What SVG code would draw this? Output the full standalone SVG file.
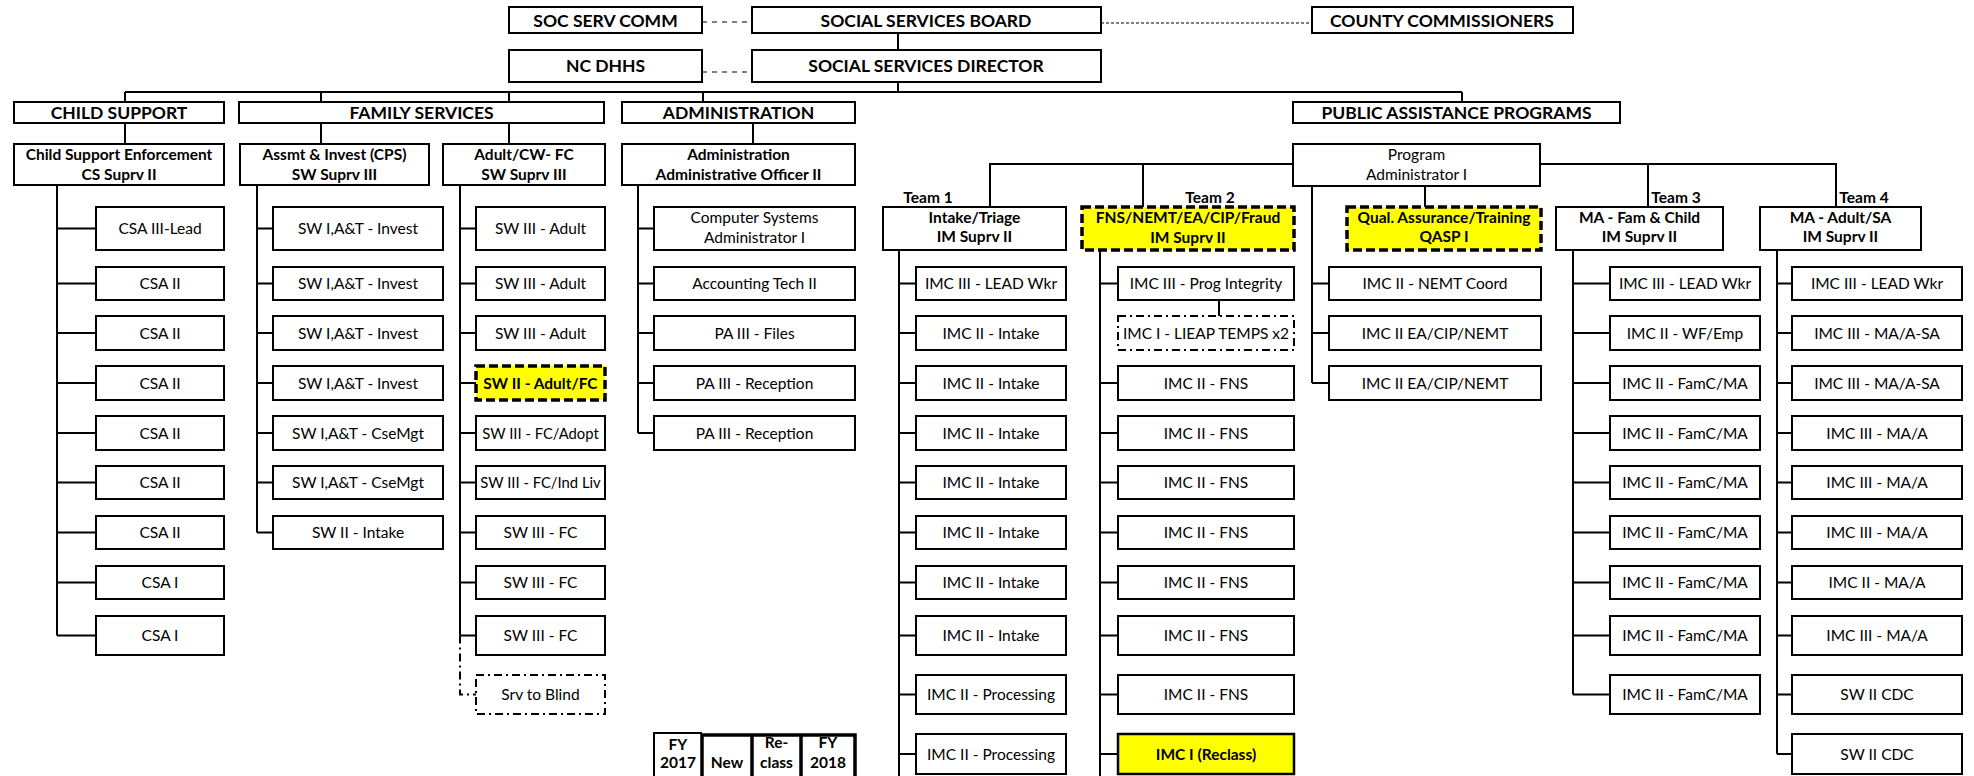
<svg xmlns="http://www.w3.org/2000/svg" width="1974" height="776" viewBox="0 0 1974 776">
<style>
  .bg{fill:#fff}
  .box{fill:#fff;stroke:#000;stroke-width:2}
  .hl{fill:#ff0;stroke:#000;stroke-width:3.5;stroke-dasharray:9 4}
  .hs{fill:#ff0;stroke:#000;stroke-width:2.5}
  .dd{fill:#fff;stroke:#000;stroke-width:2;stroke-dasharray:8 4 2 4}
  .ln{fill:none;stroke:#000;stroke-width:2}
  .lnd{fill:none;stroke:#000;stroke-width:2;stroke-dasharray:8 4 2 4}
  .dash{fill:none;stroke:#000;stroke-width:1.2;stroke-dasharray:5 5}
  .fine{fill:none;stroke:#000;stroke-width:1;stroke-dasharray:3 2}
  text{font-family:Lato,"Liberation Sans",sans-serif;text-anchor:middle;fill:#000}
  .h{font-size:17.5px;font-weight:700}
  .b{font-size:15.5px;font-weight:700}
  .t{font-size:15.5px}
  .tn{font-size:14.8px}
</style>
<rect class="bg" x="0" y="0" width="1974" height="776"/>

<!-- connectors -->
<g id="connectors">
  <path class="dash" d="M702 22H752M702 72H752"/>
  <path class="fine" d="M1101 23H1312"/>
  <path class="ln" d="M898 33V50M898 82V92M125 92H1462M125 92V102M321 92V102M509 92V102M703 92V102M1462 92V102"/>
  <path class="ln" d="M125 123V144M321 123V144M509 123V144M753 123V144"/>
  <!-- child support -->
  <path class="ln" d="M57 185V635.5M57 228.5H96M57 283.5H96M57 333H96M57 383H96M57 433H96M57 482.5H96M57 532.5H96M57 582.5H96M57 635.5H96"/>
  <!-- assessment and investigation -->
  <path class="ln" d="M257 185V532.5M257 228.5H273M257 283.5H273M257 333H273M257 383H273M257 433H273M257 482.5H273M257 532.5H273"/>
  <!-- adult / foster care -->
  <path class="ln" d="M460 185V635.5M460 228.5H476M460 283.5H476M460 333H476M460 383H476M460 433H476M460 482.5H476M460 532.5H476M460 582.5H476M460 635.5H476"/>
  <path class="lnd" d="M460 635.5V694.5H476"/>
  <!-- administration -->
  <path class="ln" d="M638 185V433M638 228.5H654M638 283.5H654M638 333H654M638 383H654M638 433H654"/>
  <!-- program administrator to teams -->
  <path class="ln" d="M990 207V164H1293M1540 164H1836V207M1143 164V207M1648 164V207M1425 186V207"/>
  <path class="ln" d="M1312 186V383M1312 283.5H1329M1312 333H1329M1312 383H1329"/>
  <!-- team 1 -->
  <path class="ln" d="M899 250V776M899 283.5H916M899 333H916M899 383H916M899 433H916M899 482.5H916M899 532.5H916M899 582.5H916M899 635.5H916M899 694.5H916M899 754H916"/>
  <!-- team 2 -->
  <path class="ln" d="M1100 250V776M1100 283.5H1118M1100 383H1118M1100 433H1118M1100 482.5H1118M1100 532.5H1118M1100 582.5H1118M1100 635.5H1118M1100 694.5H1118M1100 754H1118M1219 300V316"/>
  <!-- team 3 -->
  <path class="ln" d="M1573 250V694.5M1573 283.5H1610M1573 333H1610M1573 383H1610M1573 433H1610M1573 482.5H1610M1573 532.5H1610M1573 582.5H1610M1573 635.5H1610M1573 694.5H1610"/>
  <!-- team 4 -->
  <path class="ln" d="M1777 250V754M1777 283.5H1792M1777 333H1792M1777 383H1792M1777 433H1792M1777 482.5H1792M1777 532.5H1792M1777 582.5H1792M1777 635.5H1792M1777 694.5H1792M1777 754H1792"/>
</g>

<!-- top level -->
<g id="soc-serv-comm"><rect class="box" x="509" y="7" width="193" height="26"/><text class="h" x="605.5" y="26.5">SOC SERV COMM</text></g>
<g id="ss-board"><rect class="box" x="752" y="7" width="349" height="26"/><text class="h" x="926" y="26.5">SOCIAL SERVICES BOARD</text></g>
<g id="county-commissioners"><rect class="box" x="1312" y="7" width="261" height="26"/><text class="h" x="1442" y="26.5">COUNTY COMMISSIONERS</text></g>
<g id="nc-dhhs"><rect class="box" x="509" y="50" width="193" height="32"/><text class="h" x="605.5" y="72">NC DHHS</text></g>
<g id="ss-director"><rect class="box" x="752" y="50" width="349" height="32"/><text class="h" x="926" y="72">SOCIAL SERVICES DIRECTOR</text></g>

<!-- divisions -->
<g id="child-support"><rect class="box" x="14" y="102" width="210" height="21"/><text class="h" x="119" y="119">CHILD SUPPORT</text></g>
<g id="family-services"><rect class="box" x="239" y="102" width="365" height="21"/><text class="h" x="421.5" y="119">FAMILY SERVICES</text></g>
<g id="administration"><rect class="box" x="622" y="102" width="233" height="21"/><text class="h" x="738.5" y="119">ADMINISTRATION</text></g>
<g id="public-assistance"><rect class="box" x="1293" y="102" width="327" height="21"/><text class="h" x="1456.5" y="119">PUBLIC ASSISTANCE PROGRAMS</text></g>

<!-- section supervisors -->
<g id="cs-enforcement"><rect class="box" x="14" y="144" width="210" height="41"/><text class="b" x="119" y="160">Child Support Enforcement</text><text class="b" x="119" y="180">CS Suprv II</text></g>
<g id="assmt-invest"><rect class="box" x="240" y="144" width="189" height="41"/><text class="b" x="334.5" y="160">Assmt &amp; Invest (CPS)</text><text class="b" x="334.5" y="180">SW Suprv III</text></g>
<g id="adult-cw-fc"><rect class="box" x="443" y="144" width="162" height="41"/><text class="b" x="524" y="160">Adult/CW- FC</text><text class="b" x="524" y="180">SW Suprv III</text></g>
<g id="admin-officer"><rect class="box" x="622" y="144" width="233" height="41"/><text class="b" x="738.5" y="160">Administration</text><text class="b" x="738.5" y="180">Administrative Officer II</text></g>
<g id="program-admin"><rect class="box" x="1293" y="144" width="247" height="42"/><text class="t" x="1416.5" y="160">Program</text><text class="t" x="1416.5" y="180">Administrator I</text></g>

<!-- team labels -->
<g id="team-labels">
  <text class="b" x="928" y="203">Team 1</text>
  <text class="b" x="1210" y="203">Team 2</text>
  <text class="b" x="1676" y="203">Team 3</text>
  <text class="b" x="1864" y="203">Team 4</text>
</g>

<!-- team supervisors -->
<g id="intake-triage"><rect class="box" x="883" y="207" width="183" height="43"/><text class="b" x="974.5" y="223">Intake/Triage</text><text class="b" x="974.5" y="242">IM Suprv II</text></g>
<g id="fns-nemt"><rect class="hl" x="1082" y="207" width="212" height="43"/><text class="b" x="1188" y="223">FNS/NEMT/EA/CIP/Fraud</text><text class="b" x="1188" y="243">IM Suprv II</text></g>
<g id="qa-training"><rect class="hl" x="1347" y="207" width="194" height="43"/><text class="b" x="1444" y="223">Qual. Assurance/Training</text><text class="b" x="1444" y="242">QASP I</text></g>
<g id="ma-fam-child"><rect class="box" x="1556" y="207" width="167" height="43"/><text class="b" x="1639.5" y="223">MA - Fam &amp; Child</text><text class="b" x="1639.5" y="242">IM Suprv II</text></g>
<g id="ma-adult-sa"><rect class="box" x="1760" y="207" width="161" height="43"/><text class="b" x="1840.5" y="223">MA - Adult/SA</text><text class="b" x="1840.5" y="242">IM Suprv II</text></g>

<!-- child support staff -->
<g id="cs-1"><rect class="box" x="96" y="207" width="128" height="43"/><text class="t" x="160" y="234">CSA III-Lead</text></g>
<g id="cs-2"><rect class="box" x="96" y="267" width="128" height="33"/><text class="t" x="160" y="289">CSA II</text></g>
<g id="cs-3"><rect class="box" x="96" y="316" width="128" height="34"/><text class="t" x="160" y="338.5">CSA II</text></g>
<g id="cs-4"><rect class="box" x="96" y="366" width="128" height="34"/><text class="t" x="160" y="388.5">CSA II</text></g>
<g id="cs-5"><rect class="box" x="96" y="416" width="128" height="34"/><text class="t" x="160" y="438.5">CSA II</text></g>
<g id="cs-6"><rect class="box" x="96" y="466" width="128" height="33"/><text class="t" x="160" y="488">CSA II</text></g>
<g id="cs-7"><rect class="box" x="96" y="516" width="128" height="33"/><text class="t" x="160" y="538">CSA II</text></g>
<g id="cs-8"><rect class="box" x="96" y="566" width="128" height="33"/><text class="t" x="160" y="588">CSA I</text></g>
<g id="cs-9"><rect class="box" x="96" y="616" width="128" height="39"/><text class="t" x="160" y="641">CSA I</text></g>

<!-- assessment and investigation staff -->
<g id="ai-1"><rect class="box" x="273" y="207" width="170" height="43"/><text class="t" x="358" y="234">SW I,A&amp;T - Invest</text></g>
<g id="ai-2"><rect class="box" x="273" y="267" width="170" height="33"/><text class="t" x="358" y="289">SW I,A&amp;T - Invest</text></g>
<g id="ai-3"><rect class="box" x="273" y="316" width="170" height="34"/><text class="t" x="358" y="338.5">SW I,A&amp;T - Invest</text></g>
<g id="ai-4"><rect class="box" x="273" y="366" width="170" height="34"/><text class="t" x="358" y="388.5">SW I,A&amp;T - Invest</text></g>
<g id="ai-5"><rect class="box" x="273" y="416" width="170" height="34"/><text class="t" x="358" y="438.5">SW I,A&amp;T - CseMgt</text></g>
<g id="ai-6"><rect class="box" x="273" y="466" width="170" height="33"/><text class="t" x="358" y="488">SW I,A&amp;T - CseMgt</text></g>
<g id="ai-7"><rect class="box" x="273" y="516" width="170" height="33"/><text class="t" x="358" y="538">SW II - Intake</text></g>

<!-- adult / foster care staff -->
<g id="af-1"><rect class="box" x="476" y="207" width="129" height="43"/><text class="t" x="540.5" y="234">SW III - Adult</text></g>
<g id="af-2"><rect class="box" x="476" y="267" width="129" height="33"/><text class="t" x="540.5" y="289">SW III - Adult</text></g>
<g id="af-3"><rect class="box" x="476" y="316" width="129" height="34"/><text class="t" x="540.5" y="338.5">SW III - Adult</text></g>
<g id="af-4"><rect class="hl" x="476" y="366" width="129" height="34"/><text class="b" x="540.5" y="388.5">SW II - Adult/FC</text></g>
<g id="af-5"><rect class="box" x="476" y="416" width="129" height="34"/><text class="tn" x="540.5" y="438.5">SW III - FC/Adopt</text></g>
<g id="af-6"><rect class="box" x="476" y="466" width="129" height="33"/><text class="tn" x="540.5" y="488">SW III - FC/Ind Liv</text></g>
<g id="af-7"><rect class="box" x="476" y="516" width="129" height="33"/><text class="t" x="540.5" y="538">SW III - FC</text></g>
<g id="af-8"><rect class="box" x="476" y="566" width="129" height="33"/><text class="t" x="540.5" y="588">SW III - FC</text></g>
<g id="af-9"><rect class="box" x="476" y="616" width="129" height="39"/><text class="t" x="540.5" y="641">SW III - FC</text></g>
<g id="af-10"><rect class="dd" x="476" y="675" width="129" height="39"/><text class="t" x="540.5" y="700">Srv to Blind</text></g>

<!-- administration staff -->
<g id="ad-1"><rect class="box" x="654" y="207" width="201" height="43"/><text class="t" x="754.5" y="223">Computer Systems</text><text class="t" x="754.5" y="243">Administrator I</text></g>
<g id="ad-2"><rect class="box" x="654" y="267" width="201" height="33"/><text class="t" x="754.5" y="289">Accounting Tech II</text></g>
<g id="ad-3"><rect class="box" x="654" y="316" width="201" height="34"/><text class="t" x="754.5" y="338.5">PA III - Files</text></g>
<g id="ad-4"><rect class="box" x="654" y="366" width="201" height="34"/><text class="t" x="754.5" y="388.5">PA III - Reception</text></g>
<g id="ad-5"><rect class="box" x="654" y="416" width="201" height="34"/><text class="t" x="754.5" y="438.5">PA III - Reception</text></g>

<!-- team 1 staff -->
<g id="t1-1"><rect class="box" x="916" y="267" width="150" height="33"/><text class="t" x="991" y="289">IMC III - LEAD Wkr</text></g>
<g id="t1-2"><rect class="box" x="916" y="316" width="150" height="34"/><text class="t" x="991" y="338.5">IMC II - Intake</text></g>
<g id="t1-3"><rect class="box" x="916" y="366" width="150" height="34"/><text class="t" x="991" y="388.5">IMC II - Intake</text></g>
<g id="t1-4"><rect class="box" x="916" y="416" width="150" height="34"/><text class="t" x="991" y="438.5">IMC II - Intake</text></g>
<g id="t1-5"><rect class="box" x="916" y="466" width="150" height="33"/><text class="t" x="991" y="488">IMC II - Intake</text></g>
<g id="t1-6"><rect class="box" x="916" y="516" width="150" height="33"/><text class="t" x="991" y="538">IMC II - Intake</text></g>
<g id="t1-7"><rect class="box" x="916" y="566" width="150" height="33"/><text class="t" x="991" y="588">IMC II - Intake</text></g>
<g id="t1-8"><rect class="box" x="916" y="616" width="150" height="39"/><text class="t" x="991" y="641">IMC II - Intake</text></g>
<g id="t1-9"><rect class="box" x="916" y="675" width="150" height="39"/><text class="t" x="991" y="700">IMC II - Processing</text></g>
<g id="t1-10"><rect class="box" x="916" y="734" width="150" height="40"/><text class="t" x="991" y="759.5">IMC II - Processing</text></g>

<!-- team 2 staff -->
<g id="t2-1"><rect class="box" x="1118" y="267" width="176" height="33"/><text class="t" x="1206" y="289">IMC III - Prog Integrity</text></g>
<g id="t2-2"><rect class="dd" x="1118" y="316" width="176" height="34"/><text class="t" x="1206" y="338.5">IMC I - LIEAP TEMPS x2</text></g>
<g id="t2-3"><rect class="box" x="1118" y="366" width="176" height="34"/><text class="t" x="1206" y="388.5">IMC II - FNS</text></g>
<g id="t2-4"><rect class="box" x="1118" y="416" width="176" height="34"/><text class="t" x="1206" y="438.5">IMC II - FNS</text></g>
<g id="t2-5"><rect class="box" x="1118" y="466" width="176" height="33"/><text class="t" x="1206" y="488">IMC II - FNS</text></g>
<g id="t2-6"><rect class="box" x="1118" y="516" width="176" height="33"/><text class="t" x="1206" y="538">IMC II - FNS</text></g>
<g id="t2-7"><rect class="box" x="1118" y="566" width="176" height="33"/><text class="t" x="1206" y="588">IMC II - FNS</text></g>
<g id="t2-8"><rect class="box" x="1118" y="616" width="176" height="39"/><text class="t" x="1206" y="641">IMC II - FNS</text></g>
<g id="t2-9"><rect class="box" x="1118" y="675" width="176" height="39"/><text class="t" x="1206" y="700">IMC II - FNS</text></g>
<g id="t2-10"><rect class="hs" x="1118" y="734" width="176" height="40"/><text class="b" x="1206" y="759.5">IMC I (Reclass)</text></g>

<!-- NEMT / EA staff -->
<g id="pa-1"><rect class="box" x="1329" y="267" width="212" height="33"/><text class="t" x="1435" y="289">IMC II - NEMT Coord</text></g>
<g id="pa-2"><rect class="box" x="1329" y="316" width="212" height="34"/><text class="t" x="1435" y="338.5">IMC II EA/CIP/NEMT</text></g>
<g id="pa-3"><rect class="box" x="1329" y="366" width="212" height="34"/><text class="t" x="1435" y="388.5">IMC II EA/CIP/NEMT</text></g>

<!-- team 3 staff -->
<g id="t3-1"><rect class="box" x="1610" y="267" width="150" height="33"/><text class="t" x="1685" y="289">IMC III - LEAD Wkr</text></g>
<g id="t3-2"><rect class="box" x="1610" y="316" width="150" height="34"/><text class="t" x="1685" y="338.5">IMC II - WF/Emp</text></g>
<g id="t3-3"><rect class="box" x="1610" y="366" width="150" height="34"/><text class="t" x="1685" y="388.5">IMC II - FamC/MA</text></g>
<g id="t3-4"><rect class="box" x="1610" y="416" width="150" height="34"/><text class="t" x="1685" y="438.5">IMC II - FamC/MA</text></g>
<g id="t3-5"><rect class="box" x="1610" y="466" width="150" height="33"/><text class="t" x="1685" y="488">IMC II - FamC/MA</text></g>
<g id="t3-6"><rect class="box" x="1610" y="516" width="150" height="33"/><text class="t" x="1685" y="538">IMC II - FamC/MA</text></g>
<g id="t3-7"><rect class="box" x="1610" y="566" width="150" height="33"/><text class="t" x="1685" y="588">IMC II - FamC/MA</text></g>
<g id="t3-8"><rect class="box" x="1610" y="616" width="150" height="39"/><text class="t" x="1685" y="641">IMC II - FamC/MA</text></g>
<g id="t3-9"><rect class="box" x="1610" y="675" width="150" height="39"/><text class="t" x="1685" y="700">IMC II - FamC/MA</text></g>

<!-- team 4 staff -->
<g id="t4-1"><rect class="box" x="1792" y="267" width="170" height="33"/><text class="t" x="1877" y="289">IMC III - LEAD Wkr</text></g>
<g id="t4-2"><rect class="box" x="1792" y="316" width="170" height="34"/><text class="t" x="1877" y="338.5">IMC III - MA/A-SA</text></g>
<g id="t4-3"><rect class="box" x="1792" y="366" width="170" height="34"/><text class="t" x="1877" y="388.5">IMC III - MA/A-SA</text></g>
<g id="t4-4"><rect class="box" x="1792" y="416" width="170" height="34"/><text class="t" x="1877" y="438.5">IMC III - MA/A</text></g>
<g id="t4-5"><rect class="box" x="1792" y="466" width="170" height="33"/><text class="t" x="1877" y="488">IMC III - MA/A</text></g>
<g id="t4-6"><rect class="box" x="1792" y="516" width="170" height="33"/><text class="t" x="1877" y="538">IMC III - MA/A</text></g>
<g id="t4-7"><rect class="box" x="1792" y="566" width="170" height="33"/><text class="t" x="1877" y="588">IMC II - MA/A</text></g>
<g id="t4-8"><rect class="box" x="1792" y="616" width="170" height="39"/><text class="t" x="1877" y="641">IMC III - MA/A</text></g>
<g id="t4-9"><rect class="box" x="1792" y="675" width="170" height="39"/><text class="t" x="1877" y="700">SW II CDC</text></g>
<g id="t4-10"><rect class="box" x="1792" y="734" width="170" height="40"/><text class="t" x="1877" y="759.5">SW II CDC</text></g>

<!-- position count table -->
<g id="fy-table">
  <path class="ln" d="M654 780V733H702"/>
  <path fill="none" stroke="#000" stroke-width="3.5" d="M702 780V735H855V780M752 735V780M801 735V780"/>
  <text class="b" x="678" y="750">FY</text>
  <text class="b" x="678" y="768">2017</text>
  <text class="b" x="727" y="768">New</text>
  <text class="b" x="776.5" y="748">Re-</text>
  <text class="b" x="776.5" y="768">class</text>
  <text class="b" x="828" y="748">FY</text>
  <text class="b" x="828" y="768">2018</text>
</g>
</svg>
